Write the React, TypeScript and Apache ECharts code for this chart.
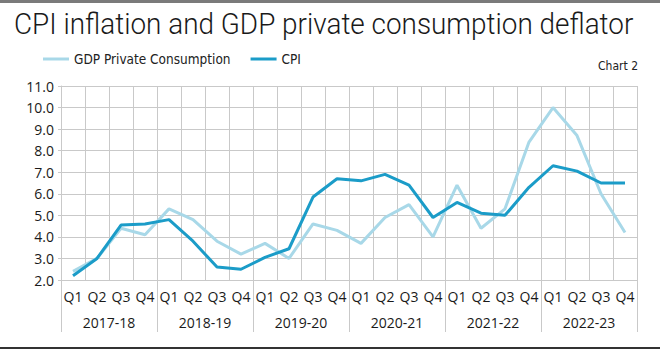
import React, { useEffect, useRef } from "react";
import * as echarts from "echarts";

const quarters = ["Q1", "Q2", "Q3", "Q4", "Q1", "Q2", "Q3", "Q4", "Q1", "Q2", "Q3", "Q4", "Q1", "Q2", "Q3", "Q4", "Q1", "Q2", "Q3", "Q4", "Q1", "Q2", "Q3", "Q4"];
const years = ["2017-18", "2018-19", "2019-20", "2020-21", "2021-22", "2022-23"];
const gdpPrivateConsumption = [2.4, 3.0, 4.4, 4.1, 5.3, 4.8, 3.8, 3.2, 3.7, 3.0, 4.6, 4.3, 3.7, 4.9, 5.5, 4.0, 6.4, 4.4, 5.3, 8.4, 10.0, 8.7, 6.0, 4.2];
const cpi = [2.2, 3.0, 4.55, 4.6, 4.8, 3.8, 2.6, 2.5, 3.05, 3.45, 5.85, 6.7, 6.6, 6.9, 6.4, 4.9, 5.6, 5.1, 5.0, 6.3, 7.3, 7.05, 6.5, 6.5];

const GRID = "#c9c9c9";
const DARK = "#1b9cc8";
const LIGHT = "#a8d8e8";
const FONT = "'Open Sans', 'Noto Sans', sans-serif";

export default function App() {
  const ref = useRef<HTMLDivElement>(null);
  useEffect(() => {
    if (!ref.current) return;
    const chart = echarts.init(ref.current, undefined, { renderer: "svg" });
    chart.setOption({
      animation: false,
      backgroundColor: "#fff",
      grid: { left: 61, right: 23, top: 86, bottom: 69, containLabel: false },
      legend: {
        left: 38,
        top: 47,
        itemWidth: 26,
        itemHeight: 3,
        itemGap: 20,
        icon: "rect",
        textStyle: { fontFamily: "'DejaVu Sans Condensed', 'Liberation Sans Narrow', sans-serif", fontSize: 13.5, color: "#222" },
        data: ["GDP Private Consumption", "CPI"],
      },
      graphic: [
        { type: "rect", shape: { x: 0, y: 0, width: 660, height: 3 }, style: { fill: "#7a7a7a" } },
        { type: "rect", shape: { x: 0, y: 347, width: 660, height: 2 }, style: { fill: "#333" } },
        {
          type: "text",
          x: 14,
          y: 9,
          scaleX: 0.93,
          style: { text: "CPI inflation and GDP private consumption deflator", fontFamily: "Roboto", fontWeight: 300, fontSize: 30, fill: "#1a1a1a" },
        },
        {
          type: "text",
          right: 22,
          top: 60,
          style: { text: "Chart 2", fontFamily: "'DejaVu Sans Condensed', sans-serif", fontSize: 12, fill: "#222" },
        },
      ],
      xAxis: [
        {
          type: "category",
          data: quarters,
          boundaryGap: true,
          axisLine: { show: true, lineStyle: { color: GRID } },
          axisTick: { show: false },
          axisLabel: { interval: 0, margin: 9, fontFamily: FONT, fontSize: 14, color: "#1a1a1a" },
          splitLine: { show: true, interval: 0, lineStyle: { color: GRID, width: 1 } },
        },
        {
          type: "category",
          data: years,
          position: "bottom",
          boundaryGap: true,
          axisLine: { show: false },
          axisTick: { show: true, length: 52, interval: 0, lineStyle: { color: GRID } },
          axisLabel: { interval: 0, margin: 35, fontFamily: FONT, fontSize: 14, color: "#1a1a1a" },
          splitLine: { show: false },
        },
      ],
      yAxis: {
        type: "value",
        min: 2,
        max: 11,
        interval: 1,
        axisLine: { show: true, lineStyle: { color: GRID } },
        axisTick: { show: true, length: 3, lineStyle: { color: GRID } },
        axisLabel: { margin: 7, fontFamily: FONT, fontSize: 14, color: "#1a1a1a", formatter: (v: number) => v.toFixed(1) },
        splitLine: { show: true, lineStyle: { color: GRID, width: 1 } },
      },
      series: [
        {
          name: "GDP Private Consumption",
          type: "line",
          data: gdpPrivateConsumption,
          showSymbol: false,
          symbol: "none",
          lineStyle: { color: LIGHT, width: 3 },
          itemStyle: { color: LIGHT },
          z: 2,
        },
        {
          name: "CPI",
          type: "line",
          data: cpi,
          showSymbol: false,
          symbol: "none",
          lineStyle: { color: DARK, width: 3 },
          itemStyle: { color: DARK },
          z: 3,
        },
      ],
    });
    return () => chart.dispose();
  }, []);
  return <div ref={ref} style={{ width: 660, height: 349, position: "fixed", left: 0, top: 0 }} />;
}
